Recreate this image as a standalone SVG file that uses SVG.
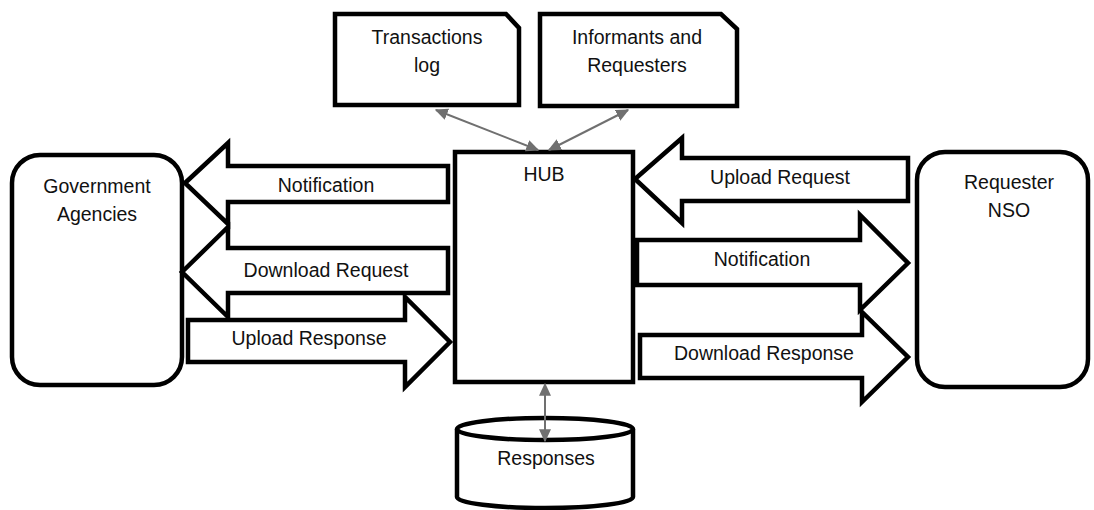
<svg xmlns="http://www.w3.org/2000/svg" width="1094" height="510" viewBox="0 0 1094 510">
<defs>
<style>
.n{fill:#fff;stroke:#000;stroke-width:4.5;stroke-linejoin:miter}
.a{fill:#fff;stroke:#000;stroke-width:4.5;stroke-linejoin:miter;stroke-miterlimit:10}
.t{font-family:"Liberation Sans",Arial,sans-serif;font-size:19.5px;fill:#111;text-anchor:middle}
.c{stroke:#707070;stroke-width:2;fill:none;marker-start:url(#m);marker-end:url(#m)}
</style>
<marker id="m" viewBox="0 0 10 10" refX="9" refY="5" markerWidth="13" markerHeight="12" orient="auto-start-reverse" markerUnits="userSpaceOnUse" preserveAspectRatio="none">
<path d="M0,0 L10,5 L0,10 z" fill="#707070"/>
</marker>
</defs>
<rect width="1094" height="510" fill="#fff"/>
<g id="trans">
<path class="n" d="M335,14 H506 L519,28 V105 H335 Z"/>
<text class="t" x="427" y="44">Transactions</text>
<text class="t" x="427" y="72">log</text>
</g>
<g id="informants">
<path class="n" d="M540,14 H721 L737,29 V106 H540 Z"/>
<text class="t" x="637" y="44">Informants and</text>
<text class="t" x="637" y="72">Requesters</text>
</g>
<g id="gov">
<rect class="n" x="12" y="155" width="170" height="230" rx="28"/>
<text class="t" x="97" y="193">Government</text>
<text class="t" x="97" y="221">Agencies</text>
</g>
<g id="nso">
<rect class="n" x="917" y="152" width="171" height="235" rx="28"/>
<text class="t" x="1009" y="189">Requester</text>
<text class="t" x="1009" y="217">NSO</text>
</g>
<g id="hub">
<rect class="n" x="455" y="152" width="178" height="230"/>
<text class="t" x="544" y="181">HUB</text>
</g>
<g id="responses">
<path class="n" d="M457,429 A88,11 0 0 1 633,429 V497 A88,11 0 0 1 457,497 Z"/>
<path class="n" fill="none" d="M457,429 A88,11 0 0 0 633,429"/>
<text class="t" x="546" y="465">Responses</text>
</g>
<g id="connectors">
<g id="arr-notif-left">
<polygon class="a" points="185,183 228,143 228,166 448,166 448,202 228,202 228,224"/>
<text class="t" x="326" y="192">Notification</text>
</g>
<g id="arr-dlreq">
<polygon class="a" points="182,272 228,227 228,248 448,248 448,293 228,293 228,317"/>
<text class="t" x="326" y="277">Download Request</text>
</g>
<g id="arr-upresp">
<polygon class="a" points="188,320 405,320 405,297 450,342 405,387 405,362 188,362"/>
<text class="t" x="309" y="345">Upload Response</text>
</g>
<g id="arr-upreq">
<polygon class="a" points="635,179 682,138 682,158 908,158 908,201 682,201 682,223"/>
<text class="t" x="780" y="184">Upload Request</text>
</g>
<g id="arr-notif-right">
<polygon class="a" points="637,240 860,240 860,215 908,263 860,310 860,285 637,285"/>
<text class="t" x="762" y="266">Notification</text>
</g>
<g id="arr-dlresp">
<polygon class="a" points="640,335 862,335 862,312 908,357 862,402 862,378 640,378"/>
<text class="t" x="764" y="360">Download Response</text>
</g>
<line class="c" x1="436" y1="110" x2="538" y2="150"/>
<line class="c" x1="628" y1="110" x2="549" y2="150"/>
<line class="c" x1="545" y1="384" x2="545" y2="441"/>
</g>
</svg>
